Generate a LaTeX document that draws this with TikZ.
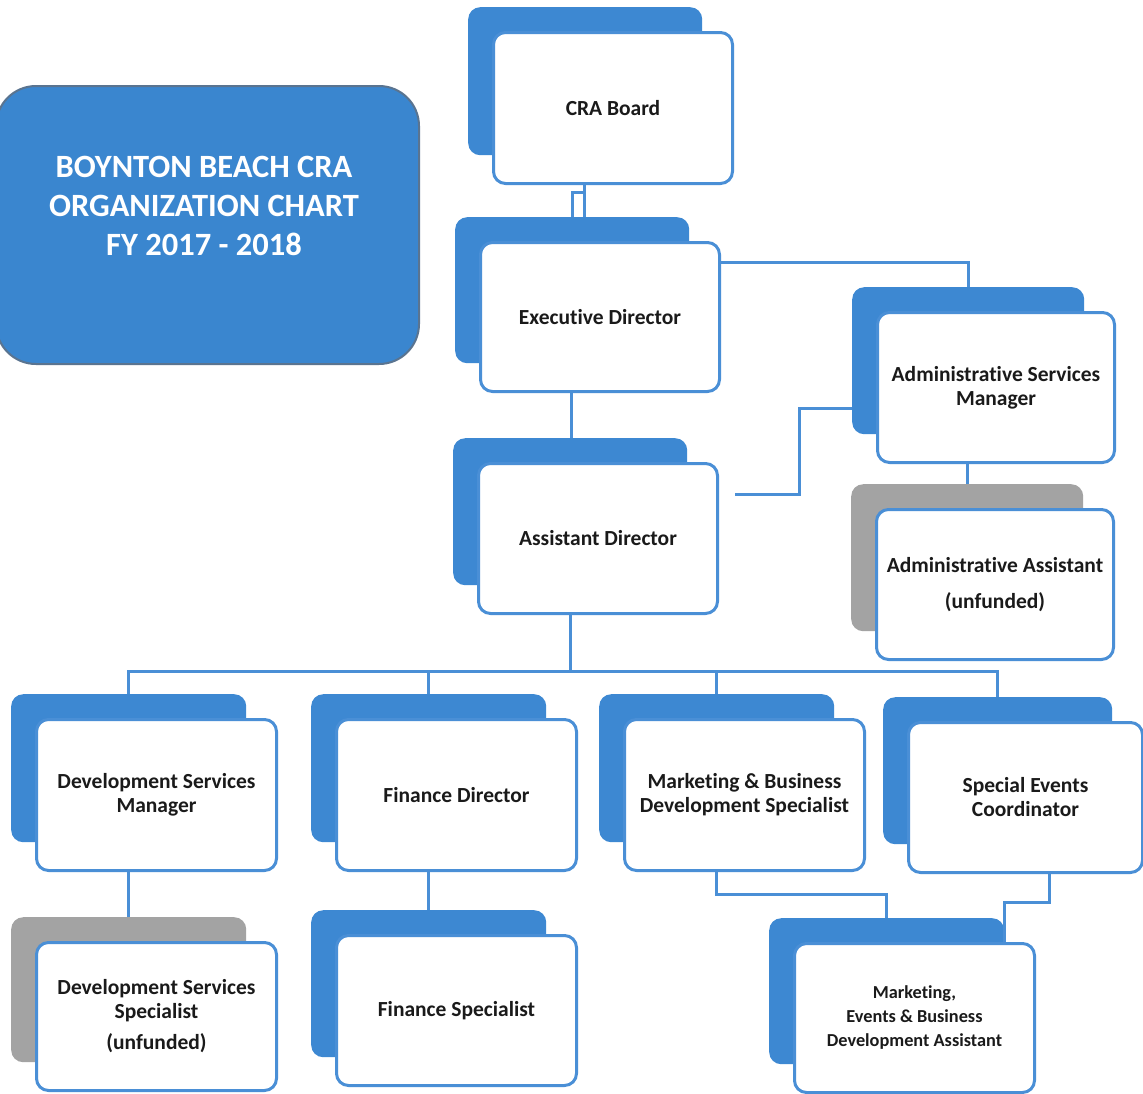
\documentclass[tikz,border=0pt]{standalone}
\usepackage{fontspec}
\setmainfont{Carlito}[Ligatures=NoCommon]
\definecolor{backblue}{HTML}{3D88D2}
\definecolor{lineblue}{HTML}{4A8FD6}
\definecolor{backgray}{HTML}{A3A3A3}
\definecolor{titleblue}{HTML}{3A86CF}
\definecolor{titleedge}{HTML}{5A7490}
\definecolor{inktext}{HTML}{1A1A1A}
\newcommand\orgcard[7]{%
  \node[backcard, fill=#6, minimum width={#4-#2-7}, minimum height={#5-#3-5}, anchor=north west] (#1b) at ({#2-23},{#3-23}) {};
  \node[frontcard, minimum width={#4-#2-2}, minimum height={#5-#3-2}, anchor=north west] (#1) at ({#2+1},{#3+1}) {#7};
}
\begin{document}
\begin{tikzpicture}[x=1pt,y=-1pt,
  frontcard/.style={draw=lineblue, line width=3pt, fill=white, rounded corners=12pt, align=center,
    font=\bfseries\fontsize{21.5}{24}\selectfont, text=inktext, inner sep=0pt},
  backcard/.style={rounded corners=12pt, inner sep=0pt},
  conn/.style={draw=lineblue, line width=3pt},
  titlebox/.style={draw=titleedge, line width=2pt, fill=titleblue, rounded corners=40pt, inner sep=0pt},
  titletext/.style={text=white, font=\bfseries\fontsize{32.5}{39}\selectfont, align=center}]
\useasboundingbox (0,0) rectangle (1143,1093);
\fill[white] (0,0) rectangle (1143,1093);

% title
\node[titlebox, minimum width=423, minimum height=278, anchor=north west] (title) at (-5,85) {};
\node[titletext] (titletxt) at (204,206) {BOYNTON BEACH CRA\\ORGANIZATION CHART\\FY 2017 - 2018};

% cards
\orgcard{cra}{491}{30}{732}{183}{backblue}{CRA Board}
\orgcard{ed}{478}{240}{719}{391}{backblue}{Executive Director}
\orgcard{asm}{875}{310}{1114}{462}{backblue}{Administrative Services\\Manager}
\orgcard{ad}{476}{461}{717}{613}{backblue}{Assistant Director}
\orgcard{aa}{874}{507}{1113}{659}{backgray}{Administrative Assistant\\[12pt](unfunded)}
\orgcard{dsm}{34}{717}{276}{870}{backblue}{Development Services\\Manager}
\orgcard{fd}{334}{717}{576}{870}{backblue}{Finance Director}
\orgcard{ms}{622}{717}{864}{870}{backblue}{Marketing \& Business\\Development Specialist}
\orgcard{se}{906}{720}{1142}{872}{backblue}{Special Events\\Coordinator}
\orgcard{dss}{34}{940}{276}{1090}{backgray}{Development Services\\Specialist\\[7pt](unfunded)}
\orgcard{fs}{334}{933}{576}{1085}{backblue}{Finance Specialist}
\orgcard{mea}{792}{941}{1034}{1092}{backblue}{\fontsize{18.3}{28}\selectfont Marketing,\\\fontsize{18.3}{28}\selectfont Events \& Business\\\fontsize{18.3}{28}\selectfont Development Assistant}

% connectors
\draw[conn] (cra.south -| 584,0) -- (edb.north -| 584,0);
\draw[conn] (cra.south -| 584,0) ++(0,7) -| (edb.north -| 572,0);
\draw[conn] (ed.east |- 0,262) -| (asmb.north);
\draw[conn] (ed.south -| 571,0) -- (adb.north -| 571,0);
\draw[conn] (ad.east |- 0,494) ++(16,0) -- (799,494) |- (asmb.west |- 0,408);
\draw[conn] (asm.south -| aab.north) -- (aab.north);
\draw[conn] (ad.south -| 570,0) -- (570,671);
\draw[conn] (dsmb.north) |- (570,671);
\draw[conn] (570,671) -| (seb.north);
\draw[conn] (fdb.north) -- (fdb.north |- 0,671);
\draw[conn] (msb.north) -- (msb.north |- 0,671);
\draw[conn] (dssb.north) -- (dssb.north |- dsm.south);
\draw[conn] (fsb.north) -- (fsb.north |- fd.south);
\draw[conn] (ms.south -| msb.north) -- ++(0,22) -| (meab.north);
\draw[conn] (se.south -| 1049,0) -- ++(0,28) -| (mea.north -| meab.east);
\end{tikzpicture}
\end{document}
